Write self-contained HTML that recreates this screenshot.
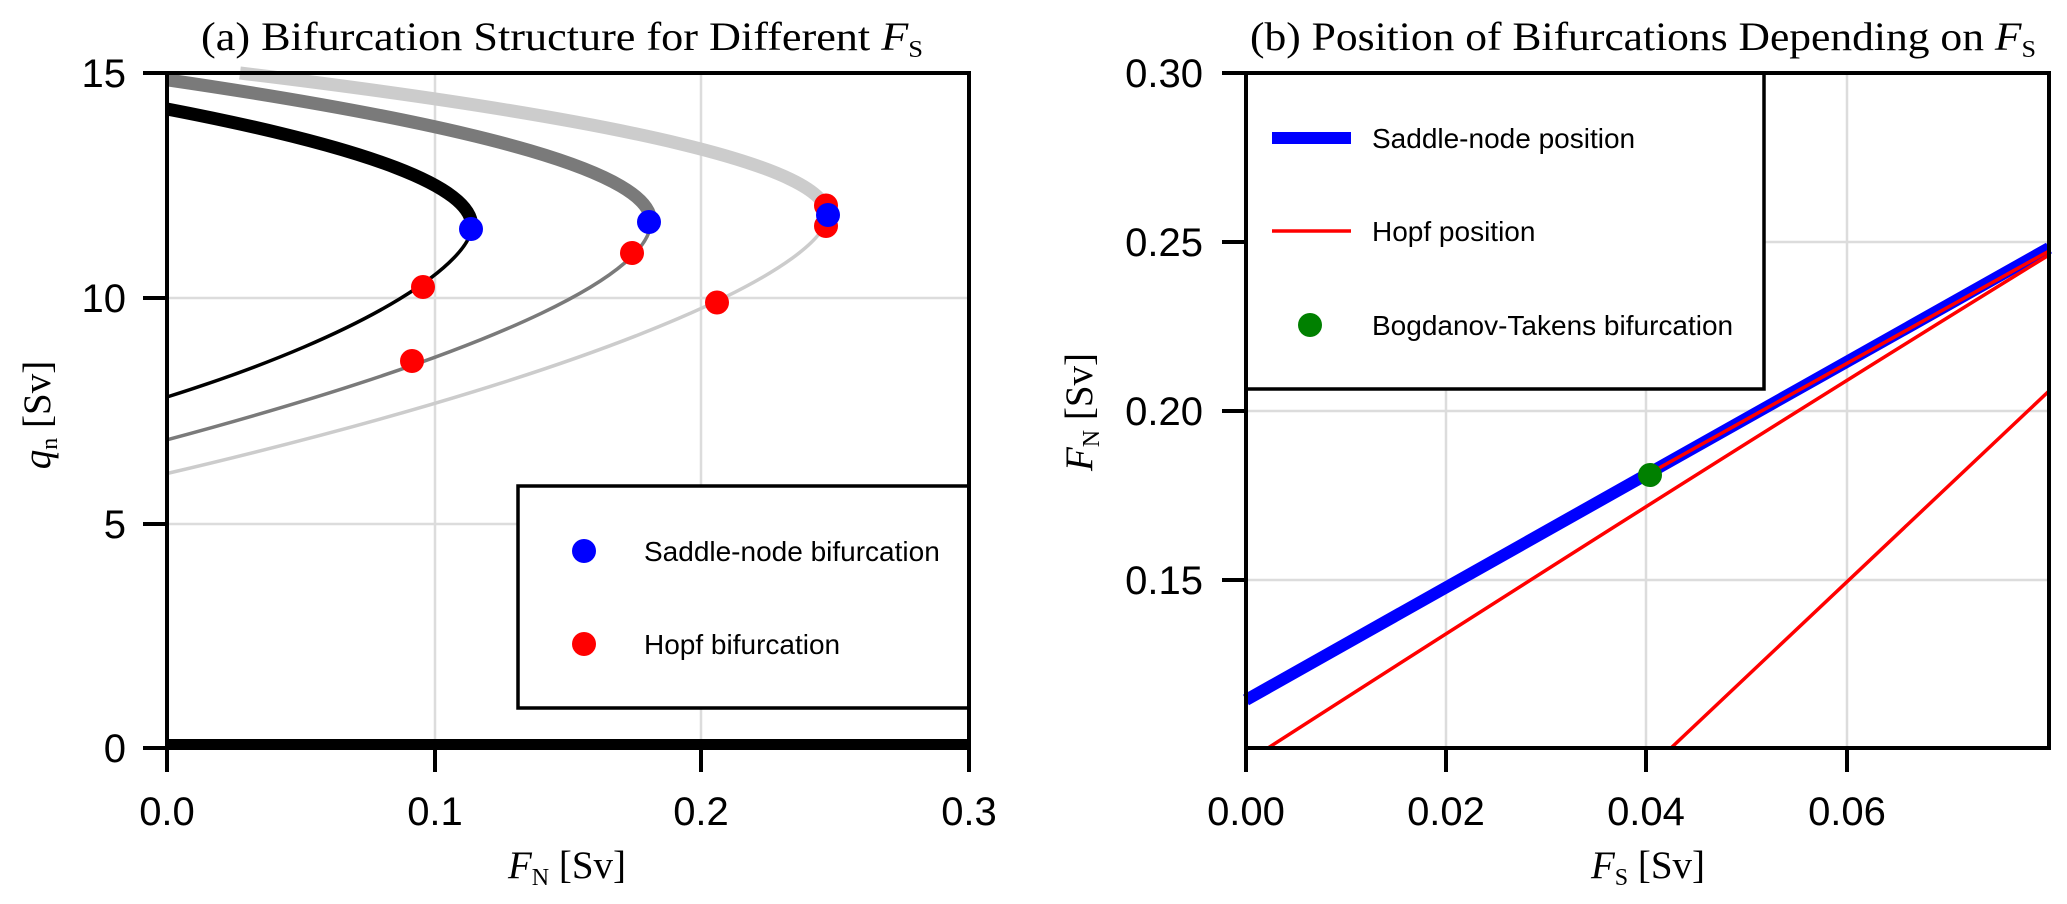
<!DOCTYPE html>
<html><head><meta charset="utf-8"><style>
html,body{margin:0;padding:0;background:#fff;}
svg{display:block;}
.t{font-family:"Liberation Sans",sans-serif;font-size:40px;fill:#000;}
.s{font-family:"Liberation Serif",serif;fill:#000;}
.l{font-family:"Liberation Sans",sans-serif;font-size:28px;fill:#000;}
</style></head><body>
<svg width="2067" height="904" viewBox="0 0 2067 904" xmlns="http://www.w3.org/2000/svg">
<rect width="2067" height="904" fill="#fff"/>
<!-- LEFT PANEL -->
<g stroke="#dcdcdc" stroke-width="2.5">
<line x1="435" y1="73" x2="435" y2="748"/><line x1="701" y1="73" x2="701" y2="748"/>
<line x1="167" y1="298" x2="969" y2="298"/><line x1="167" y1="524" x2="969" y2="524"/>
</g>
<g fill="none" stroke-linecap="butt">
<path d="M240,73 Q827.3,143.9 827.3,214.8" stroke="#cccccc" stroke-width="13"/>
<path d="M827.3,214.8 C827.3,260 650,360 167,473.5" stroke="#cccccc" stroke-width="3.5"/>
<path d="M167,79.8 Q650.9,150.6 650.9,221.5" stroke="#7a7a7a" stroke-width="13"/>
<path d="M650.9,221.5 C650.9,270 520,345 167,439.8" stroke="#7a7a7a" stroke-width="3.5"/>
<path d="M167,109 Q471.8,167.5 471.8,226" stroke="#000" stroke-width="13"/>
<path d="M471.8,226 C471.8,260 380,330 167,397" stroke="#000" stroke-width="3.5"/>
</g>
<line x1="167" y1="744" x2="969" y2="744" stroke="#000" stroke-width="10"/>
<g fill="#ff0000">
<circle cx="423" cy="287" r="12"/><circle cx="412" cy="361" r="12"/><circle cx="632" cy="253" r="12"/>
<circle cx="717" cy="302.5" r="12"/><circle cx="826" cy="205.5" r="12"/><circle cx="826" cy="226" r="12"/>
</g>
<g fill="#0000ff">
<circle cx="471" cy="229" r="12"/><circle cx="649" cy="222" r="12"/><circle cx="828" cy="215" r="12"/>
</g>
<rect x="518" y="486" width="451" height="222" fill="#fff" stroke="#000" stroke-width="3.5"/>
<circle cx="584" cy="551" r="12" fill="#0000ff"/>
<text class="l" x="644" y="561">Saddle-node bifurcation</text>
<circle cx="584" cy="644" r="12" fill="#ff0000"/>
<text class="l" x="644" y="654">Hopf bifurcation</text>
<rect x="167" y="73" width="802" height="675" fill="none" stroke="#000" stroke-width="4"/>
<g stroke="#000" stroke-width="4">
<line x1="143" y1="73" x2="167" y2="73"/><line x1="143" y1="298" x2="167" y2="298"/>
<line x1="143" y1="524" x2="167" y2="524"/><line x1="143" y1="748" x2="167" y2="748"/>
<line x1="167" y1="748" x2="167" y2="772"/><line x1="435" y1="748" x2="435" y2="772"/>
<line x1="701" y1="748" x2="701" y2="772"/><line x1="969" y1="748" x2="969" y2="772"/>
</g>
<g class="t" text-anchor="end">
<text x="126" y="87">15</text><text x="126" y="312">10</text><text x="126" y="538">5</text><text x="126" y="762">0</text>
</g>
<g class="t" text-anchor="middle">
<text x="167" y="825">0.0</text><text x="435" y="825">0.1</text><text x="701" y="825">0.2</text><text x="969" y="825">0.3</text>
</g>
<text class="s" x="562" y="50" font-size="40" text-anchor="middle" textLength="722" lengthAdjust="spacingAndGlyphs">(a) Bifurcation Structure for Different <tspan font-style="italic">F</tspan><tspan font-size="24" dy="7">S</tspan></text>
<text class="s" x="567" y="878" font-size="39" text-anchor="middle"><tspan font-style="italic">F</tspan><tspan font-size="24" dy="7">N</tspan><tspan dy="-7"> [Sv]</tspan></text>
<text class="s" transform="translate(50,415) rotate(-90)" font-size="39" text-anchor="middle"><tspan font-style="italic">q</tspan><tspan font-size="24" dy="7">n</tspan><tspan dy="-7"> [Sv]</tspan></text>

<!-- RIGHT PANEL -->
<g stroke="#dcdcdc" stroke-width="2.5">
<line x1="1446" y1="73" x2="1446" y2="748"/><line x1="1646" y1="73" x2="1646" y2="748"/><line x1="1847" y1="73" x2="1847" y2="748"/>
<line x1="1246" y1="242" x2="2049" y2="242"/><line x1="1246" y1="411" x2="2049" y2="411"/><line x1="1246" y1="580" x2="2049" y2="580"/>
</g>
<g fill="none">
<line x1="1246" y1="700" x2="2049" y2="248" stroke="#0000ff" stroke-width="12"/>
<path d="M1268,748 Q1700,470 2049,255" stroke="#ff0000" stroke-width="3.5"/>
<line x1="1650" y1="473" x2="2049" y2="251" stroke="#ff0000" stroke-width="3.5"/>
<line x1="1671" y1="748" x2="2049" y2="391" stroke="#ff0000" stroke-width="3.5"/>
</g>
<circle cx="1650" cy="475" r="12" fill="#008000"/>
<rect x="1246" y="73" width="518" height="316" fill="#fff" stroke="#000" stroke-width="3.5"/>
<line x1="1272" y1="138" x2="1351" y2="138" stroke="#0000ff" stroke-width="12"/>
<text class="l" x="1372" y="148">Saddle-node position</text>
<line x1="1272" y1="231" x2="1351" y2="231" stroke="#ff0000" stroke-width="3.5"/>
<text class="l" x="1372" y="241">Hopf position</text>
<circle cx="1310" cy="325" r="12" fill="#008000"/>
<text class="l" x="1372" y="335">Bogdanov-Takens bifurcation</text>
<rect x="1246" y="73" width="803" height="675" fill="none" stroke="#000" stroke-width="4"/>
<g stroke="#000" stroke-width="4">
<line x1="1222" y1="73" x2="1246" y2="73"/><line x1="1222" y1="242" x2="1246" y2="242"/>
<line x1="1222" y1="411" x2="1246" y2="411"/><line x1="1222" y1="580" x2="1246" y2="580"/>
<line x1="1246" y1="748" x2="1246" y2="772"/><line x1="1446" y1="748" x2="1446" y2="772"/>
<line x1="1646" y1="748" x2="1646" y2="772"/><line x1="1847" y1="748" x2="1847" y2="772"/>
</g>
<g class="t" text-anchor="end">
<text x="1203" y="87">0.30</text><text x="1203" y="256">0.25</text><text x="1203" y="425">0.20</text><text x="1203" y="594">0.15</text>
</g>
<g class="t" text-anchor="middle">
<text x="1246" y="825">0.00</text><text x="1446" y="825">0.02</text><text x="1646" y="825">0.04</text><text x="1847" y="825">0.06</text>
</g>
<text class="s" x="1643" y="50" font-size="40" text-anchor="middle" textLength="786" lengthAdjust="spacingAndGlyphs">(b) Position of Bifurcations Depending on <tspan font-style="italic">F</tspan><tspan font-size="24" dy="7">S</tspan></text>
<text class="s" x="1648" y="878" font-size="39" text-anchor="middle"><tspan font-style="italic">F</tspan><tspan font-size="24" dy="7">S</tspan><tspan dy="-7"> [Sv]</tspan></text>
<text class="s" transform="translate(1092,412) rotate(-90)" font-size="39" text-anchor="middle"><tspan font-style="italic">F</tspan><tspan font-size="24" dy="7">N</tspan><tspan dy="-7"> [Sv]</tspan></text>
</svg>
</body></html>
